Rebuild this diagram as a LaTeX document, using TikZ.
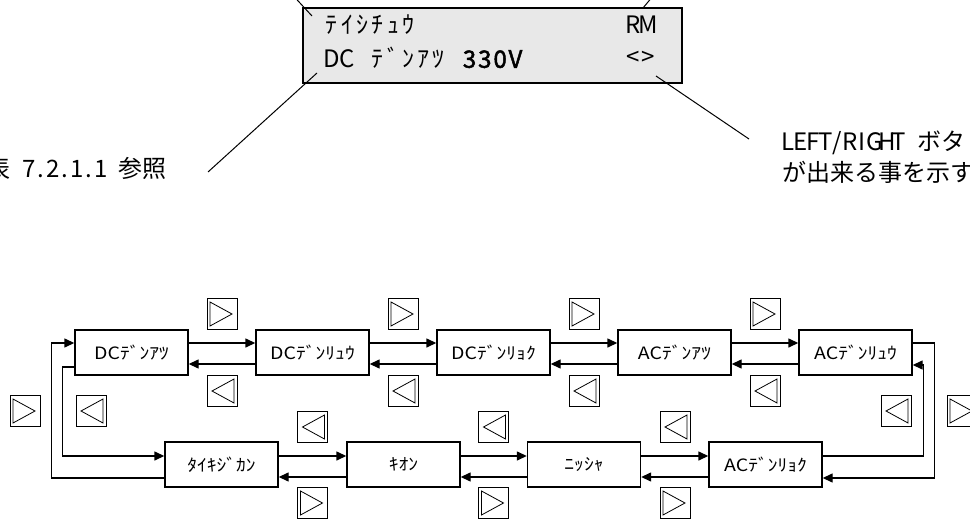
\documentclass[tikz,border=0pt]{standalone}
\usepackage{fontspec}
\usepackage{tikz}
\usetikzlibrary{arrows.meta, calc}
\setmainfont{Noto Sans CJK JP}
\newfontfamily\lcdfont{Noto Sans CJK JP}
\newfontfamily\lcdboldfont[FakeBold=2]{Noto Sans CJK JP}
\newfontfamily\boxfont[FakeStretch=1.15]{Noto Sans CJK JP}
\definecolor{lcdgray}{RGB}{232,232,232}
\definecolor{ink}{RGB}{0,0,0}
% one character per fixed cell
\newlength{\cellw}
\newcommand{\celltext}[2]{\setlength{\cellw}{#1}\cellloop#2\relax}
\def\cellloop#1{\ifx#1\relax\else\makebox[\cellw]{#1}\expandafter\cellloop\fi}
\newcommand{\lcdtext}[1]{\celltext{15.3pt}{#1}}
\tikzset{
  lcdpanel/.style={draw=ink, fill=lcdgray, line width=1.6pt},
  lcdline/.style={anchor=west, inner sep=0pt, font=\lcdfont\fontsize{24}{26}\selectfont},
  note/.style={inner sep=0pt, font=\fontsize{24}{29}\selectfont},
  leader/.style={draw=ink, line width=1pt},
  statebox/.style={rectangle, draw=ink, fill=white, line width=1.4pt,
    minimum width=113pt, minimum height=45pt, inner sep=0pt,
    font=\boxfont\fontsize{17}{19}\selectfont},
  flow/.style={-{Triangle[length=10pt,width=9pt]}, line width=1.4pt, color=ink},
  keybox/.style={draw=ink, line width=0.9pt},
  keytri/.style={draw=ink, line width=0.8pt, line join=miter}
}
% key icon: x, y, direction (1 = right, -1 = left)
\newcommand{\keyicon}[3]{%
  \draw[keybox] ({#1-15},{#2-15.5}) rectangle ({#1+15},{#2+15.5});
  \draw[keytri] ({#1-12*(#3)},{#2-12}) -- ({#1-12*(#3)},{#2+12})
    -- ({#1+10*(#3)},{#2}) -- cycle;}

\begin{document}
\begin{tikzpicture}[x=1pt, y=-1pt]
  \useasboundingbox (0,0) rectangle (970,519);
  % ── LCD panel (top) ────────────────────────────────────────────
  \draw[lcdpanel] (303,8) rectangle (682,83);
  \node[lcdline] (row1) at (324,25) {\lcdtext{ﾃｲｼﾁｭｳ}};
  \node[lcdline] (mode) at (625,25) {\lcdtext{RM}};
  \node[lcdline] (row2) at (324,58)
    {\lcdtext{DC~ﾃﾞﾝｱﾂ~}{\lcdboldfont\lcdtext{330V}}};
  \node[lcdline] (lr) at (625,58) {\lcdtext{<>}};
  % leader lines to the notes
  \coordinate (tlend) at (288,-10);
  \coordinate (trend) at (658,-10);
  \coordinate (blend) at (208,172);
  \coordinate (brend) at (749,139);
  \draw[leader] (312,16) -- (tlend);
  \draw[leader] (643,8) -- (trend);
  \draw[leader] (317,73) -- (blend);
  \draw[leader] (656,76) -- (brend);
  \node[note, anchor=east] (tabref) at (167,168)
    {表\celltext{12pt}{~7.2.1.1~}参照};
  \node[note, anchor=west] (lrnote1) at (782,143)
    {\celltext{12.3pt}{LEFT/RIGHT~}ボタ};
  \node[note, anchor=west] (lrnote2) at (782,172) {が出来る事を示す};

  % ── Screen cycle (bottom) ─────────────────────────────────────
  \foreach \name/\x/\txt in {dca/131.5/DCﾃﾞﾝｱﾂ, dcr/312.5/DCﾃﾞﾝﾘｭｳ,
      dcq/493.5/DCﾃﾞﾝﾘｮｸ, aca/674.5/ACﾃﾞﾝｱﾂ, acr/855.5/ACﾃﾞﾝﾘｭｳ}
    \node[statebox] (\name) at (\x,352.5) {\txt};
  \foreach \name/\x/\txt in {tai/221.5/ﾀｲｷｼﾞｶﾝ, kio/403.5/ｷｵﾝ,
      nis/584/ﾆｯｼｬ, acq/765.5/ACﾃﾞﾝﾘｮｸ}
    \node[statebox] (\name) at (\x,464.5) {\txt};

  % upper row
  \foreach \a/\b in {dca/dcr, dcr/dcq, dcq/aca, aca/acr} {
    \draw[flow] ($(\a.east)+(0,-9.5)$) -- ($(\b.west)+(0,-9.5)$);
    \draw[flow] ($(\b.west)+(0,11.5)$) -- ($(\a.east)+(0,11.5)$);
  }
  % lower row
  \foreach \a/\b in {tai/kio, kio/nis, nis/acq} {
    \draw[flow] ($(\a.east)+(0,-8.5)$) -- ($(\b.west)+(0,-8.5)$);
    \draw[flow] ($(\b.west)+(0,12.5)$) -- ($(\a.east)+(0,12.5)$);
  }
  % left turn
  \draw[flow] ($(tai.west)+(0,13.5)$) -| ($(dca.west)+(-23,-9.5)$)
    -- ($(dca.west)+(0,-9.5)$);
  \draw[flow] ($(dca.west)+(0,14.5)$) -- ++(-12,0) |- ($(tai.west)+(0,-8.5)$);
  % right turn
  \draw[flow] ($(acr.east)+(0,-9.5)$) -| ($(acq.east)+(112,13.5)$)
    -- ($(acq.east)+(0,13.5)$);
  \draw[flow] ($(acq.east)+(0,-8.5)$) -| ($(acr.east)+(11,12.5)$)
    -- ($(acr.east)+(0,12.5)$);

  % key icons
  \foreach \x in {222,403,584,765} {
    \keyicon{\x}{314}{1}
    \keyicon{\x}{391}{-1}
  }
  \foreach \x in {312.5,493.5,675} {
    \keyicon{\x}{427}{-1}
    \keyicon{\x}{503}{1}
  }
  \keyicon{25}{411}{1}
  \keyicon{91}{411}{-1}
  \keyicon{896}{411}{-1}
  \keyicon{962}{411}{1}
\end{tikzpicture}
\end{document}
